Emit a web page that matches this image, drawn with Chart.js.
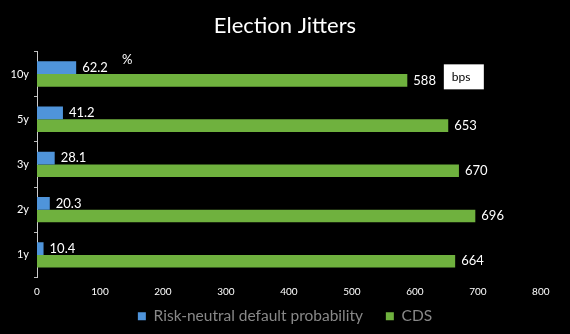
<!DOCTYPE html>
<html>
<head>
<meta charset="utf-8">
<script src="https://cdn.jsdelivr.net/npm/chart.js@4/dist/chart.umd.min.js"></script>
<style>
  html, body { margin: 0; padding: 0; background: #000; }
  #wrap { width: 570px; height: 334px; }
</style>
</head>
<body>
<div id="wrap"><canvas id="chart"></canvas></div>
<script>
// --- data ---
const categories = ["10y", "5y", "3y", "2y", "1y"];
const defaultProb = [62.2, 41.2, 28.1, 20.3, 10.4];
const cdsSpread = [588, 653, 670, 696, 664];
const xTicks = [0, 100, 200, 300, 400, 500, 600, 700, 800];

const FONT = "Lato, 'Open Sans', sans-serif";

// value labels + the "%" and "bps" notes
const labelPlugin = {
  id: "valueLabels",
  afterDatasetsDraw(chart) {
    const c = chart.ctx;
    c.save();
    c.font = "13px " + FONT;
    c.fillStyle = "#fff";
    c.textBaseline = "middle";
    chart.data.datasets.forEach((ds, i) => {
      const meta = chart.getDatasetMeta(i);
      meta.data.forEach((bar, j) => {
        const v = ds.data[j];
        const txt = i === 0 ? v.toFixed(1) : String(v);
        c.fillText(txt, bar.x + 6, bar.y);
      });
    });

    const xs = chart.scales.x;
    const top = chart.getDatasetMeta(0).data[0];
    c.fillText("%", xs.getPixelForValue(135), top.y - 8);

    const g = chart.getDatasetMeta(1).data[0];
    const bx = xs.getPixelForValue(646);
    c.fillStyle = "#fff";
    c.fillRect(bx, g.y - 16, 40, 25);
    c.fillStyle = "#000";
    c.font = "12px " + FONT;
    c.fillText("bps", bx + 8, g.y - 3);
    c.restore();
  },
};

let chart = null;

function initChart() {
  const ctx = document.getElementById("chart");
  chart = new Chart(ctx, {
    type: "bar",
    data: {
      labels: categories,
      datasets: [
        {
          label: "Risk-neutral default probability     ",
          data: defaultProb,
          backgroundColor: "#4f94da",
          barPercentage: 1,
          categoryPercentage: 0.56,
        },
        {
          label: "CDS",
          data: cdsSpread,
          backgroundColor: "#6fb13e",
          barPercentage: 1,
          categoryPercentage: 0.56,
        },
      ],
    },
    options: {
      indexAxis: "y",
      animation: false,
      responsive: true,
      maintainAspectRatio: false,
      layout: { padding: { left: 4, right: 4, top: 4, bottom: 0 } },
      scales: {
        x: {
          min: 0,
          max: 840,
          afterBuildTicks: (axis) => {
            axis.ticks = xTicks.map((v) => ({ value: v }));
          },
          grid: { display: false, drawTicks: false },
          border: { display: false },
          ticks: { color: "#fff", font: { size: 10, family: FONT }, padding: 8 },
        },
        y: {
          afterFit: (axis) => { axis.width = 33; },
          grid: {
            display: true,
            drawOnChartArea: false,
            tickLength: 3,
            color: "#bbb",
          },
          border: { display: true, color: "#ccc", width: 1 },
          ticks: { color: "#fff", font: { size: 11, family: FONT }, padding: 5 },
        },
      },
      plugins: {
        title: {
          display: true,
          text: "Election Jitters",
          color: "#fff",
          font: { size: 22, family: FONT, weight: "normal" },
          padding: { top: 9, bottom: 12 },
        },
        legend: {
          position: "bottom",
          labels: {
            color: "#888",
            font: { size: 15.5, family: FONT },
            boxWidth: 8,
            boxHeight: 8,
            padding: 3,
          },
        },
        tooltip: { enabled: false },
      },
    },
    plugins: [labelPlugin],
  });
}

document.addEventListener("DOMContentLoaded", () => {
  initChart();
});
</script>
</body>
</html>
